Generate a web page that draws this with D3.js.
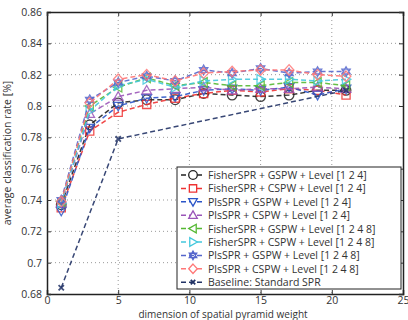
<!DOCTYPE html>
<html><head><meta charset="utf-8">
<script src="https://cdn.jsdelivr.net/npm/d3@7"></script>
<style>body{margin:0;background:#fff}svg{display:block}text{font-family:"Open Sans",sans-serif}</style>
</head><body><svg id="c" width="408" height="320"></svg>
<script>
const xs = [1,3,5,7,9,11,13,15,17,19,21];
const fisherGspw124 = [0.737,0.788,0.802,0.804,0.804,0.808,0.807,0.806,0.807,0.810,0.810];
const fisherCspw124 = [0.735,0.784,0.796,0.801,0.805,0.808,0.810,0.809,0.811,0.810,0.807];
const plsGspw124    = [0.733,0.786,0.800,0.805,0.806,0.810,0.811,0.810,0.812,0.807,0.811];
const plsCspw124    = [0.738,0.795,0.806,0.810,0.811,0.812,0.810,0.811,0.811,0.812,0.811];
const fisherGspw1248= [0.739,0.800,0.812,0.818,0.813,0.815,0.813,0.813,0.815,0.815,0.813];
const fisherCspw1248= [0.738,0.797,0.813,0.817,0.812,0.816,0.817,0.817,0.817,0.816,0.817];
const plsGspw1248   = [0.740,0.804,0.815,0.819,0.816,0.823,0.821,0.824,0.821,0.822,0.822];
const plsCspw1248   = [0.739,0.802,0.817,0.820,0.816,0.821,0.822,0.823,0.823,0.820,0.819];
const baseX = [1,5,21];
const baseline = [0.684,0.779,0.810];
const xTicks = [0,5,10,15,20,25];
const yTicks = [0.68,0.7,0.72,0.74,0.76,0.78,0.8,0.82,0.84,0.86];
const labels = ["FisherSPR + GSPW + Level [1 2 4]","FisherSPR + CSPW + Level  [1 2 4]","PlsSPR + GSPW + Level  [1 2 4]","PlsSPR + CSPW + Level  [1 2 4]","FisherSPR + GSPW + Level  [1 2 4 8]","FisherSPR + CSPW + Level  [1 2 4 8]","PlsSPR + GSPW + Level  [1 2 4 8]","PlsSPR + CSPW + Level  [1 2 4 8]","Baseline: Standard SPR"];
const colors = ["#222222","#ee3333","#2b55c8","#9a55b8","#55b833","#44c8dd","#5566cc","#ff7777","#223366"];
const shapes = ["circle","square","tridown","triup","trileft","triright","hexagram","diamond","x"];

const series = [fisherGspw124,fisherCspw124,plsGspw124,plsCspw124,fisherGspw1248,fisherCspw1248,plsGspw1248,plsCspw1248]
  .map((v,i)=>({x:xs,y:v,i}));
series.push({x:baseX,y:baseline,i:8});

const svg = d3.select("#c");
const L=47,R=403,T=12,B=294;
const x = d3.scaleLinear().domain([0,25]).range([L,R]);
const y = d3.scaleLinear().domain([0.68,0.86]).range([B,T]);

// grid
const g = svg.append("g");
g.selectAll(".gx").data(xTicks.slice(1,-1)).join("line")
  .attr("x1",d=>x(d)).attr("x2",d=>x(d)).attr("y1",T).attr("y2",B)
  .attr("stroke","#999").attr("stroke-dasharray","1,3");
g.selectAll(".gy").data(yTicks.slice(1,-1)).join("line")
  .attr("y1",d=>y(d)).attr("y2",d=>y(d)).attr("x1",L).attr("x2",R)
  .attr("stroke","#999").attr("stroke-dasharray","1,3");

// axes
const xa = svg.append("g").attr("transform",`translate(0,${B})`)
  .call(d3.axisBottom(x).tickValues(xTicks).tickSize(-4).tickPadding(3).tickFormat(d3.format("d")));
const ya = svg.append("g").attr("transform",`translate(${L},0)`)
  .call(d3.axisLeft(y).tickValues(yTicks).tickSize(-4).tickPadding(5).tickFormat(d=>d3.format("")(+d.toFixed(2))));
svg.append("g").attr("transform",`translate(0,${T})`)
  .call(d3.axisTop(x).tickValues(xTicks).tickSize(-4).tickFormat(""));
svg.append("g").attr("transform",`translate(${R},0)`)
  .call(d3.axisRight(y).tickValues(yTicks).tickSize(-4).tickFormat(""));
svg.selectAll(".domain").attr("stroke","#222").attr("stroke-width",1.5);
svg.selectAll(".tick line").attr("stroke","#333");
svg.selectAll(".tick text").attr("font-size","10.5px").attr("fill","#333").attr("font-family","'Open Sans',sans-serif");

// marker paths
function sym(shape, s){
  s = s||4.5;
  switch(shape){
    case "circle": return d3.symbol(d3.symbolCircle, Math.PI*s*s)();
    case "square": return `M${-s*0.85},${-s*0.85}h${s*1.7}v${s*1.7}h${-s*1.7}Z`;
    case "tridown": return `M${-s},${-s*0.75}L${s},${-s*0.75}L0,${s}Z`;
    case "triup": return `M${-s},${s*0.75}L${s},${s*0.75}L0,${-s}Z`;
    case "trileft": return `M${s*0.75},${-s}L${s*0.75},${s}L${-s},0Z`;
    case "triright": return `M${-s*0.75},${-s}L${-s*0.75},${s}L${s},0Z`;
    case "diamond": return `M0,${-s*1.1}L${s},0L0,${s*1.1}L${-s},0Z`;
    case "x": return `M${-s*0.7},${-s*0.7}L${s*0.7},${s*0.7}M${-s*0.7},${s*0.7}L${s*0.7},${-s*0.7}`;
    case "hexagram": {
      const a=s, h=s*0.87;
      return `M0,${-a}L${h},${a/2}L${-h},${a/2}ZM0,${a}L${h},${-a/2}L${-h},${-a/2}Z`;
    }
  }
}

const line = d3.line().x(d=>x(d[0])).y(d=>y(d[1]));
const sg = svg.append("g");
series.forEach(s=>{
  const pts = s.x.map((xv,k)=>[xv,s.y[k]]);
  sg.append("path").attr("d",line(pts)).attr("fill","none")
    .attr("stroke",colors[s.i]).attr("stroke-width",1.5).attr("stroke-dasharray","5,3").attr("opacity",0.9);
  sg.selectAll(null).data(pts).join("path")
    .attr("transform",d=>`translate(${x(d[0])},${y(d[1])})`)
    .attr("d",sym(shapes[s.i], s.i===8?3.8:4.8)).attr("fill","none")
    .attr("stroke",colors[s.i]).attr("stroke-width",s.i===8?1.8:1.3).attr("opacity",0.85);
});

// legend
const lg = svg.append("g");
lg.append("rect").attr("x",177).attr("y",167).attr("width",224).attr("height",122)
  .attr("fill","#fff").attr("stroke","#222").attr("stroke-width",1);
labels.forEach((t,i)=>{
  const yy = 175 + i*13.4;
  lg.append("line").attr("x1",181).attr("x2",205).attr("y1",yy).attr("y2",yy)
    .attr("stroke",colors[i]).attr("stroke-width",1.5).attr("stroke-dasharray","5,3");
  lg.append("path").attr("transform",`translate(193,${yy})`).attr("d",sym(shapes[i], i===8?3.2:4.3))
    .attr("fill","#fff").attr("stroke",colors[i]).attr("stroke-width",i===8?1.8:1.3);
  lg.append("text").attr("x",208).attr("y",yy+4).attr("font-size","10.5px").attr("fill","#333").text(t);
});

// titles
svg.append("text").attr("x",(L+R)/2-2).attr("y",318).attr("text-anchor","middle")
  .attr("font-size","10px").attr("fill","#333").text("dimension of spatial pyramid weight");
svg.append("text").attr("transform",`translate(11,${(T+B)/2}) rotate(-90)`).attr("text-anchor","middle")
  .attr("font-size","10.5px").attr("fill","#333").text("average classification rate [%]");
</script></body></html>
